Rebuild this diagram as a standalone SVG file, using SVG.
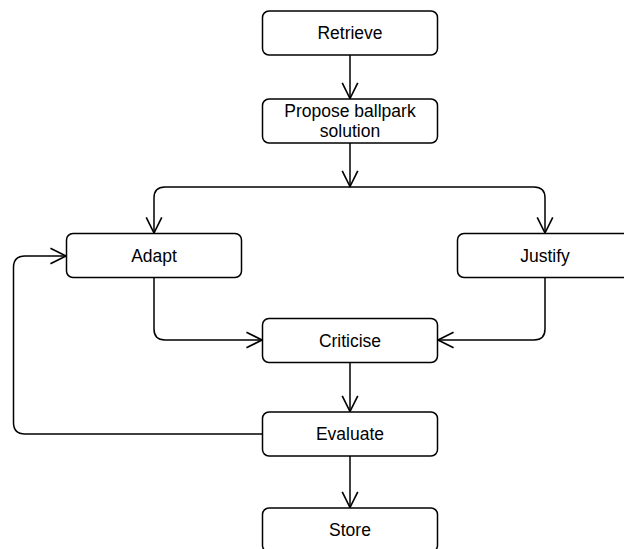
<svg xmlns="http://www.w3.org/2000/svg" width="624" height="549" viewBox="0 0 624 549">
  <style>
    .box { fill: #ffffff; stroke: #000000; stroke-width: 1.5; }
    .lbl { font-family: "Liberation Sans", Arial, Helvetica, sans-serif; font-size: 17.5px; fill: #000000; text-anchor: middle; }
    .edge { fill: none; stroke: #000000; stroke-width: 1.5; marker-end: url(#arrow); }
  </style>
  <defs>
    <marker id="arrow" markerUnits="userSpaceOnUse" markerWidth="20" markerHeight="20" viewBox="-16 -9 18 18" refX="0" refY="0" orient="auto" overflow="visible">
      <path d="M-14,-7 L0,0 L-14,7" fill="none" stroke="#000000" stroke-width="1.5"/>
    </marker>
  </defs>
  <rect width="624" height="549" fill="#ffffff"/>

  <g id="connectors">
    <path class="edge" d="M350,55 V98.5"/>
    <path class="edge" d="M350,143 V186.5"/>
    <path class="edge" d="M350,187 H165 Q154,187 154,198 V233"/>
    <path class="edge" d="M350,187 H534 Q545,187 545,198 V233"/>
    <path class="edge" d="M154,277.5 V329 Q154,340 165,340 H262"/>
    <path class="edge" d="M545,277.5 V329 Q545,340 534,340 H438"/>
    <path class="edge" d="M350,362.5 V411.5"/>
    <path class="edge" d="M262.5,434 H25 Q13.5,434 13.5,422.5 V267.5 Q13.5,256 25,256 H66"/>
    <path class="edge" d="M350,456 V507.5"/>
  </g>

  <g id="retrieve">
    <rect class="box" x="262.5" y="11" width="175" height="44" rx="6.5"/>
    <text class="lbl" x="350" y="39">Retrieve</text>
  </g>
  <g id="propose">
    <rect class="box" x="262.5" y="99" width="175" height="44" rx="6.5"/>
    <text class="lbl" x="350" y="117">Propose ballpark</text>
    <text class="lbl" x="350" y="137">solution</text>
  </g>
  <g id="adapt">
    <rect class="box" x="66.5" y="233.5" width="175" height="44" rx="6.5"/>
    <text class="lbl" x="154" y="261.5">Adapt</text>
  </g>
  <g id="justify">
    <rect class="box" x="457.5" y="233.5" width="175" height="44" rx="6.5"/>
    <text class="lbl" x="545" y="261.5">Justify</text>
  </g>
  <g id="criticise">
    <rect class="box" x="262.5" y="318.5" width="175" height="44" rx="6.5"/>
    <text class="lbl" x="350" y="346.5">Criticise</text>
  </g>
  <g id="evaluate">
    <rect class="box" x="262.5" y="412" width="175" height="44" rx="6.5"/>
    <text class="lbl" x="350" y="440">Evaluate</text>
  </g>
  <g id="store">
    <rect class="box" x="262.5" y="508" width="175" height="44" rx="6.5"/>
    <text class="lbl" x="350" y="536">Store</text>
  </g>
</svg>
